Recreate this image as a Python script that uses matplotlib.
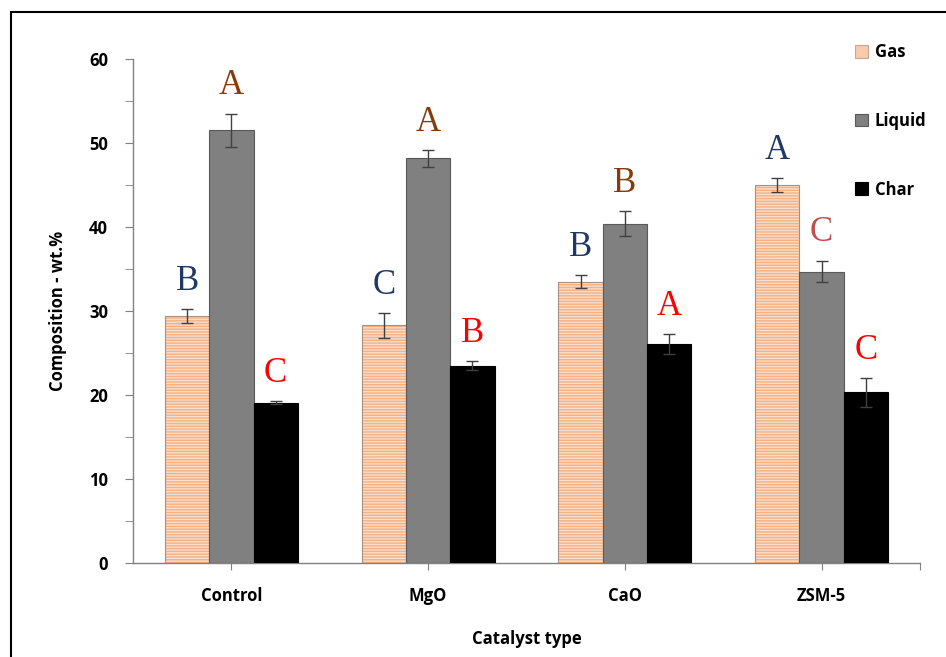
import matplotlib
matplotlib.use("Agg")
import matplotlib.pyplot as plt
import numpy as np
from matplotlib.patches import Rectangle, Patch

plt.rcParams["font.family"] = ["Open Sans", "DejaVu Sans"]
plt.rcParams["hatch.linewidth"] = 1.0

catalysts = ["Control", "MgO", "CaO", "ZSM-5"]
series = ["Gas", "Liquid", "Char"]
gas = [29.4, 28.3, 33.5, 45.0]
liquid = [51.5, 48.2, 40.4, 34.7]
char = [19.1, 23.5, 26.1, 20.3]
gas_err = [0.8, 1.5, 0.8, 0.8]
liquid_err = [2.0, 1.0, 1.5, 1.3]
char_err = [0.2, 0.5, 1.2, 1.7]
gas_letters = ["B", "C", "B", "A"]
liquid_letters = ["A", "A", "B", "C"]
char_letters = ["C", "B", "A", "C"]

NAVY = "#1F3864"
BROWN = "#843C0C"
RED = "#FF0000"
ROSE = "#C0504D"
liquid_letter_colors = [BROWN, BROWN, BROWN, ROSE]

fig = plt.figure(figsize=(9.46, 6.57), dpi=100)
ax = fig.add_axes([133 / 946, 1 - 563 / 657, (920 - 133) / 946, (563 - 59) / 657])

# outer frame (only left/top edges visible in the image)
fig.patches.append(Rectangle((11 / 946, -0.1), 1.2, 1 - 12 / 657 + 0.1,
                             transform=fig.transFigure, fill=False,
                             ec="black", lw=1.5))

x = np.arange(len(catalysts))
w = 0.225
err_kw = dict(ecolor="#404040", elinewidth=1.0, capsize=4, capthick=1.0)

# gas bars: striped peach fill + thin outline
ax.bar(x - w, gas, w, facecolor="#FBDDC9", edgecolor="#F4B183",
       hatch="------", linewidth=0, zorder=2)
ax.bar(x - w, gas, w, fill=False, edgecolor="#A89080", linewidth=0.8,
       yerr=gas_err, error_kw=err_kw, zorder=3)
ax.bar(x, liquid, w, color="#808080", edgecolor="#595959", linewidth=0.8,
       yerr=liquid_err, error_kw=err_kw, zorder=3)
ax.bar(x + w, char, w, color="black", edgecolor="black", linewidth=0.8,
       yerr=char_err, error_kw=err_kw, zorder=3)

letter_font = dict(family="Liberation Serif", fontsize=25, ha="center", va="bottom")
for i in range(len(catalysts)):
    ax.annotate(gas_letters[i], (x[i] - w, gas[i] + gas_err[i]), xytext=(0, 8),
                textcoords="offset points", color=NAVY, **letter_font)
    ax.annotate(liquid_letters[i], (x[i], liquid[i] + liquid_err[i]), xytext=(0, 8),
                textcoords="offset points", color=liquid_letter_colors[i], **letter_font)
    ax.annotate(char_letters[i], (x[i] + w, char[i] + char_err[i]), xytext=(0, 8),
                textcoords="offset points", color=RED, **letter_font)

ax.set_xlim(-0.5, 3.5)
ax.set_ylim(0, 60)
ax.set_yticks(np.arange(0, 61, 10))
ax.set_yticks(np.arange(0, 61, 5), minor=True)
ax.set_xticks(list(x) + [3.5], catalysts + [""])
ax.tick_params(axis="y", which="both", direction="out", length=6, color="#808080",
               labelsize=12, pad=12)
ax.tick_params(axis="x", direction="out", length=5, color="#808080",
               labelsize=12, pad=12)
for lab in ax.get_xticklabels() + ax.get_yticklabels():
    lab.set_fontweight("bold")

for side in ["top", "right"]:
    ax.spines[side].set_visible(False)
for side in ["left", "bottom"]:
    ax.spines[side].set_color("#808080")
    ax.spines[side].set_linewidth(1.0)

ax.set_xlabel("Catalyst type", fontsize=12, fontweight="bold", labelpad=18)
ax.set_ylabel("Composition - wt.%", fontsize=12, fontweight="bold", labelpad=16)

handles = [
    Patch(facecolor="#F8CBAD", edgecolor="#C8A890", linewidth=0.8),
    Patch(facecolor="#808080", edgecolor="#595959", linewidth=0.8),
    Patch(facecolor="black", edgecolor="black", linewidth=0.8),
]
leg = ax.legend(handles, series, loc="upper left",
                bbox_to_anchor=(840 / 946, 1 - 28 / 657),
                bbox_transform=fig.transFigure, frameon=False, fontsize=12,
                handlelength=0.8, handleheight=0.8, handletextpad=0.4,
                labelspacing=3.05)
for t in leg.get_texts():
    t.set_fontweight("bold")

fig.savefig("out.png", dpi=100)
